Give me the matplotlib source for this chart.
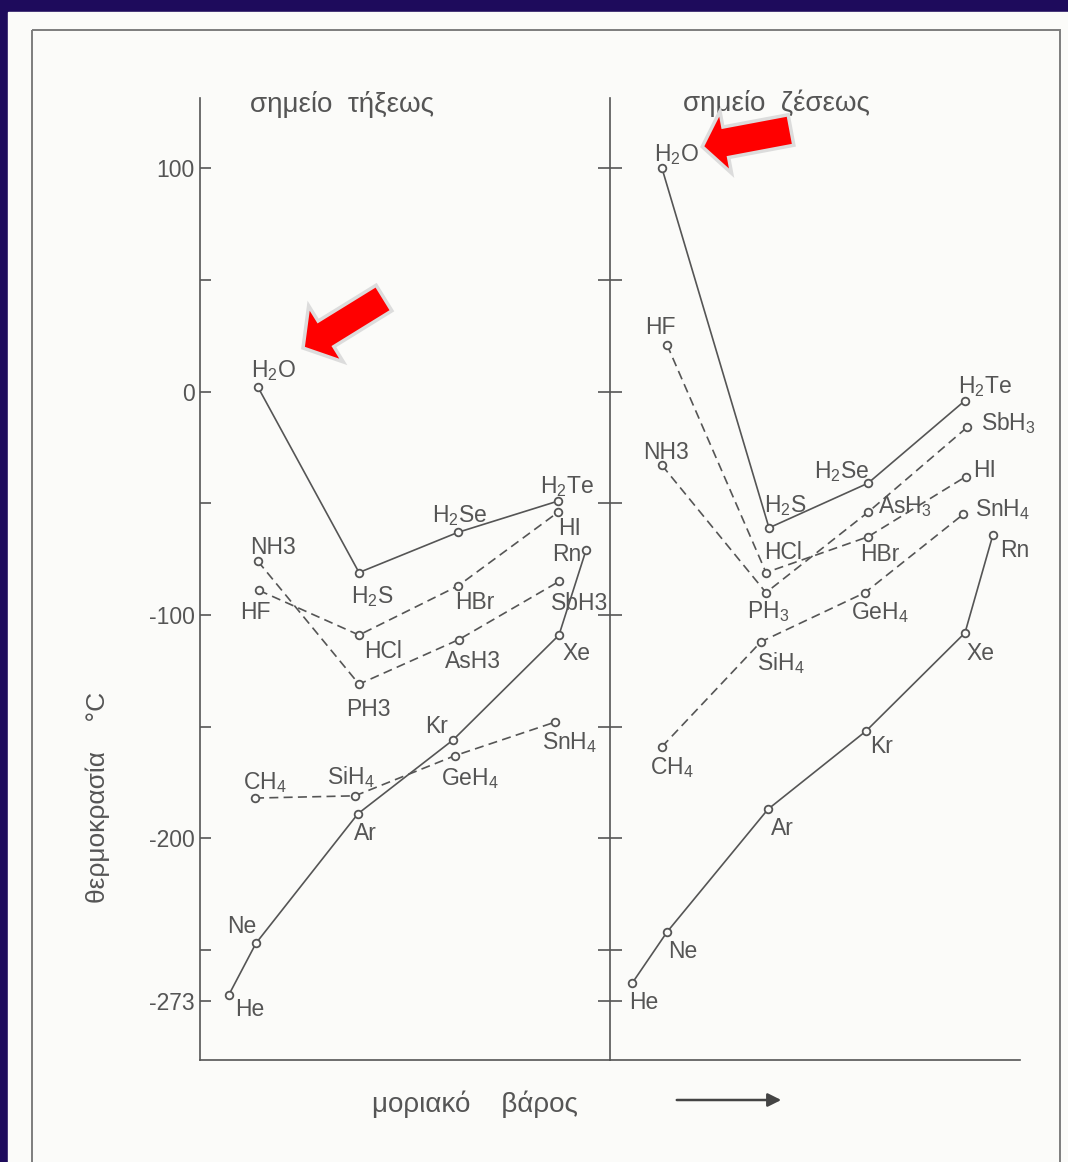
import matplotlib
matplotlib.use('Agg')
import matplotlib.pyplot as plt
from matplotlib.patches import Rectangle, FancyArrow

# --- data (x = position along the molar-mass axis) ---
water_names = ['H2O', 'H2S', 'H2Se', 'H2Te']
hf_names = ['HF', 'HCl', 'HBr', 'HI']
nh3_names = ['NH3', 'PH3', 'AsH3', 'SbH3']
ch4_names = ['CH4', 'SiH4', 'GeH4', 'SnH4']
noble_names = ['He', 'Ne', 'Ar', 'Kr', 'Xe', 'Rn']

# melting points (left panel)
water_x_m = [0.58, 1.59, 2.58, 3.58]
water_mp = [2, -81, -63, -49]
hf_x_m = [0.59, 1.59, 2.58, 3.58]
hf_mp = [-89, -109, -87, -54]
nh3_x_m = [0.58, 1.59, 2.59, 3.59]
nh3_mp = [-76, -131, -111, -85]
ch4_x_m = [0.55, 1.55, 2.55, 3.55]
ch4_mp = [-182, -181, -163, -148]
noble_x_m = [0.29, 0.56, 1.58, 2.53, 3.59, 3.86]
noble_mp = [-270, -247, -189, -156, -109, -71]

# boiling points (right panel)
water_x_b = [0.52, 1.59, 2.58, 3.55]
water_bp = [100, -61, -41, -4]
hf_x_b = [0.57, 1.56, 2.58, 3.56]
hf_bp = [21, -81, -65, -38]
nh3_x_b = [0.52, 1.56, 2.58, 3.57]
nh3_bp = [-33, -90, -54, -16]
ch4_x_b = [0.52, 1.51, 2.55, 3.53]
ch4_bp = [-159, -112, -90, -55]
noble_x_b = [0.22, 0.57, 1.58, 2.56, 3.55, 3.83]
noble_bp = [-265, -242, -187, -152, -108, -64]

y_ticks = [100, 50, 0, -50, -100, -150, -200, -250, -273]
y_ticklabels = ['100', '', '0', '', '-100', '', '-200', '', '-273']

# label offsets in pixels (dx, dy up)
off_left = {
    'H2O': (16, 17), 'H2S': (13, -24), 'H2Se': (2, 17), 'H2Te': (9, 15),
    'NH3': (15, 14), 'HF': (-4, -22), 'HCl': (24, -16), 'HBr': (17, -17),
    'HI': (12, -16), 'PH3': (9, -25), 'AsH3': (14, -22), 'SbH3': (21, -22),
    'CH4': (10, 16), 'SiH4': (-4, 19), 'GeH4': (15, -23), 'SnH4': (15, -20),
    'He': (21, -15), 'Ne': (-14, 17), 'Ar': (7, -20), 'Kr': (-16, 14),
    'Xe': (17, -18), 'Rn': (-19, -4),
}
off_right = {
    'H2O': (15, 14), 'HF': (-7, 17), 'NH3': (4, 13), 'H2S': (16, 22),
    'H2Se': (-26, 12), 'H2Te': (20, 14), 'SbH3': (41, 4), 'HI': (19, 6),
    'AsH3': (37, 6), 'SnH4': (40, 5), 'HCl': (17, 20), 'HBr': (12, -18),
    'PH3': (2, -19), 'GeH4': (15, -20), 'SiH4': (20, -21), 'CH4': (10, -21),
    'Rn': (22, -16), 'Xe': (15, -21), 'Kr': (16, -15), 'Ar': (14, -19),
    'Ne': (16, -19), 'He': (12, -19),
}

plt.rcParams['font.family'] = ['Liberation Sans', 'DejaVu Sans']
plt.rcParams['mathtext.fontset'] = 'custom'
plt.rcParams['mathtext.rm'] = 'Liberation Sans'
plt.rcParams['mathtext.default'] = 'regular'
plt.rcParams['lines.scale_dashes'] = False

ink = '#555555'
paper = '#fbfbf9'
navy = '#1e0b5c'


def chem(name, plain_digits=()):
    out = ''
    for ch in name:
        if ch.isdigit() and name not in plain_digits:
            out += '$_{' + ch + '}$'
        else:
            out += ch
    return out


def draw_panel(ax, series, offsets, plain):
    for names, xs, ys, dashed in series:
        kw = dict(color=ink, lw=1.2, marker='o', ms=5.5, mfc=paper,
                  mec=ink, mew=1.3, zorder=3)
        if dashed:
            kw['dashes'] = (6.5, 3.8)
        ax.plot(xs, ys, **kw)
        for n, x, y in zip(names, xs, ys):
            ax.annotate(chem(n, plain), (x, y), xytext=offsets[n],
                        textcoords='offset pixels', ha='center', va='center',
                        fontsize=16.5, color=ink, zorder=4)
    ax.set_xlim(0, 4.1)
    ax.set_ylim(-299.3, 131.5)
    ax.set_facecolor('none')
    ax.spines['top'].set_visible(False)
    ax.spines['right'].set_visible(False)
    for s in ('left', 'bottom'):
        ax.spines[s].set_color(ink)
        ax.spines[s].set_linewidth(1.2)
    ax.set_xticks([])
    ax.set_yticks(y_ticks)


W, H = 1068, 1162
fig = plt.figure(figsize=(W / 100, H / 100), dpi=100)

bg = fig.add_axes([0, 0, 1, 1], zorder=0)
bg.set_xlim(0, W)
bg.set_ylim(H, 0)
bg.axis('off')
bg.add_patch(Rectangle((0, 0), W, H, color=navy))
bg.add_patch(Rectangle((8, 12), W - 8, H - 12, color=paper))
bg.add_patch(Rectangle((32, 30), 1028, 1200, fill=False, ec='#7d7d7d', lw=1.4))

bg.text(342, 105, 'σημείο  τήξεως', ha='center', va='center', fontsize=20, color=ink)
bg.text(776, 103, 'σημείο  ζέσεως', ha='center', va='center', fontsize=20, color=ink)
bg.text(98, 797, 'θερμοκρασία    °C', ha='center', va='center', rotation=90,
        fontsize=19, color=ink)
bg.text(475, 1104, 'μοριακό    βάρος', ha='center', va='center', fontsize=20, color=ink)
bg.annotate('', xy=(784, 1100), xytext=(674, 1100),
            arrowprops=dict(arrowstyle='-|>', color='#444444', lw=1.8, mutation_scale=20))

# red highlight arrows
bg.add_patch(FancyArrow(384, 298, -81, 50, width=30, head_width=66, head_length=27,
                        length_includes_head=True, fc='#ff0000', ec='#dcdcdc', lw=2.5, zorder=5))
bg.add_patch(FancyArrow(791, 130, -88.8, 16.7, width=31, head_width=63, head_length=24,
                        length_includes_head=True, fc='#ff0000', ec='#dcdcdc', lw=2.5, zorder=5))

axL = fig.add_axes([200 / W, (H - 1060) / H, 410 / W, 962 / H], zorder=1)
axR = fig.add_axes([610 / W, (H - 1060) / H, 410 / W, 962 / H], zorder=1)

left_series = [
    (water_names, water_x_m, water_mp, False),
    (hf_names, hf_x_m, hf_mp, True),
    (nh3_names, nh3_x_m, nh3_mp, True),
    (ch4_names, ch4_x_m, ch4_mp, True),
    (noble_names, noble_x_m, noble_mp, False),
]
right_series = [
    (water_names, water_x_b, water_bp, False),
    (hf_names, hf_x_b, hf_bp, True),
    (nh3_names, nh3_x_b, nh3_bp, True),
    (ch4_names, ch4_x_b, ch4_bp, True),
    (noble_names, noble_x_b, noble_bp, False),
]
draw_panel(axL, left_series, off_left, plain=('NH3', 'PH3', 'AsH3', 'SbH3'))
draw_panel(axR, right_series, off_right, plain=('NH3',))

axL.set_yticklabels(y_ticklabels)
axL.tick_params(axis='y', direction='in', length=8, width=1.2, color=ink,
                labelsize=16.5, labelcolor=ink, pad=4)
axR.set_yticklabels([])
axR.tick_params(axis='y', direction='inout', length=17, width=1.2, color=ink)

fig.savefig('out.png', dpi=100, facecolor=navy)
